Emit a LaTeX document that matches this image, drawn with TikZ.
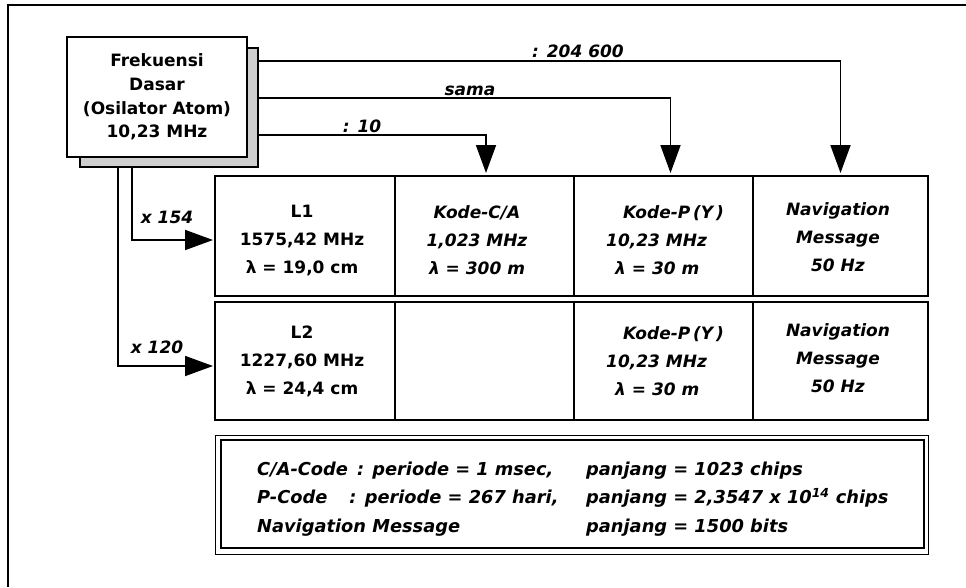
\documentclass[tikz,border=0pt]{standalone}
\usepackage{fontspec}
\setmainfont{DejaVu Sans}[BoldFont={DejaVu Sans Bold},ItalicFont={DejaVu Sans Oblique},BoldItalicFont={DejaVu Sans Bold Oblique}]
\usetikzlibrary{arrows.meta}
\tikzset{
  ln/.style={line width=1.8pt},
  arr/.style={ln, -{Triangle[width=20pt,length=28pt]}},
  cell/.style={draw, line width=1.8pt, inner sep=0pt, outer sep=0pt},
  ctext/.style={font=\bfseries\fontsize{17}{28}\selectfont, align=center, inner sep=0pt},
  itext/.style={font=\bfseries\itshape\fontsize{17}{28}\selectfont, align=center, inner sep=0pt},
  btext/.style={font=\bfseries\itshape\fontsize{17.8}{28.5}\selectfont, align=left, inner sep=0pt, anchor=west},
  lbl/.style={font=\bfseries\itshape\fontsize{17}{20}\selectfont, anchor=base, inner sep=0pt},
  shadowbox/.style={draw, line width=1.2pt, fill=gray!38},
  mainbox/.style={draw, line width=1.6pt, fill=white, inner sep=0pt, outer sep=0pt,
    font=\bfseries\fontsize{17}{23.7}\selectfont, align=center}
}
\begin{document}
\begin{tikzpicture}[x=1pt,y=-1pt]
\useasboundingbox (0,0) rectangle (966,587);
% outer frame (top and left edges)
\draw[ln] (966,5) -- (8,5) -- (8,587);
% source box with shadow
\draw[shadowbox] (80,48) rectangle (258,167);
\node[mainbox, minimum width=180pt, minimum height=120pt] (fd) at (157,97)
  {Frekuensi\\Dasar\\(Osilator Atom)\\10,23 MHz};
% row 1 cells
\node[cell, minimum width=180pt, minimum height=120pt] (c11) at (305,236) {};
\node[cell, minimum width=179pt, minimum height=120pt] (c12) at (484.5,236) {};
\node[cell, minimum width=179pt, minimum height=120pt] (c13) at (663.5,236) {};
\node[cell, minimum width=175pt, minimum height=120pt] (c14) at (840.5,236) {};
% row 2 cells
\node[cell, minimum width=180pt, minimum height=118pt] (c21) at (305,361) {};
\node[cell, minimum width=179pt, minimum height=118pt] (c22) at (484.5,361) {};
\node[cell, minimum width=179pt, minimum height=118pt] (c23) at (663.5,361) {};
\node[cell, minimum width=175pt, minimum height=118pt] (c24) at (840.5,361) {};
% cell texts
\node[ctext] (t11) at (302,240.5) {L1\\1575,42 MHz\\λ = 19,0 cm};
\node[itext] (t12) at (477,240.5) {Kode-C/A\\1,023 MHz\\λ = 300 m};
\node[itext, align=left, anchor=west] (t13) at (606,240.5) {\hspace*{17pt}Kode-P\,(Y\,)\\10,23 MHz\\\hspace*{9pt}λ = 30 m};
\node[itext] (t14) at (838,237) {Navigation\\Message\\50 Hz};
\node[ctext] (t21) at (302,361.5) {L2\\1227,60 MHz\\λ = 24,4 cm};
\node[itext, align=left, anchor=west] (t23) at (606,361.5) {\hspace*{17pt}Kode-P\,(Y\,)\\10,23 MHz\\\hspace*{9pt}λ = 30 m};
\node[itext] (t24) at (838,358) {Navigation\\Message\\50 Hz};
% connector start points
\coordinate (r1) at (258,61);
\coordinate (r2) at (258,98);
\coordinate (r3) at (258,135);
\coordinate (d1) at (132,167);
\coordinate (d2) at (118,167);
% connectors
\draw[arr, shorten >=3pt] (r1) -| (c14.north);
\draw[arr, shorten >=3pt] (r2) -| ([xshift=7pt]c13.north);
\draw[arr, shorten >=3pt] (r3) -| ([xshift=1.5pt]c12.north);
\draw[arr, shorten >=2pt] (d1) |- ([yshift=-4pt]c11.west);
\draw[arr, shorten >=2pt] (d2) |- ([yshift=-5pt]c21.west);
% connector labels
\node[lbl] (l1) at (578,57) {: 204 600};
\node[lbl] (l2) at (470,95) {sama};
\node[lbl] (l3) at (362,132) {: 10};
\node[lbl] (l4) at (167,223) {x 154};
\node[lbl] (l5) at (157,353) {x 120};
% bottom note box
\node[draw, line width=0.9pt, minimum width=713pt, minimum height=119pt, inner sep=0pt] (bbo) at (571.5,494.5) {};
\node[draw, line width=2pt, minimum width=703pt, minimum height=108pt, inner sep=0pt] (bbi) at (572.5,494) {};
\node[btext] (bl) at (257,499) {C/A-Code\hspace{9pt}: periode = 1\hspace{6pt}msec,\\P-Code\hspace{22pt}: periode = 267 hari,\\Navigation Message};
\node[btext] (br) at (586,499) {panjang = 1023 chips\\panjang = 2,3547 x 10\textsuperscript{14} chips\\panjang = 1500 bits};
\end{tikzpicture}
\end{document}
